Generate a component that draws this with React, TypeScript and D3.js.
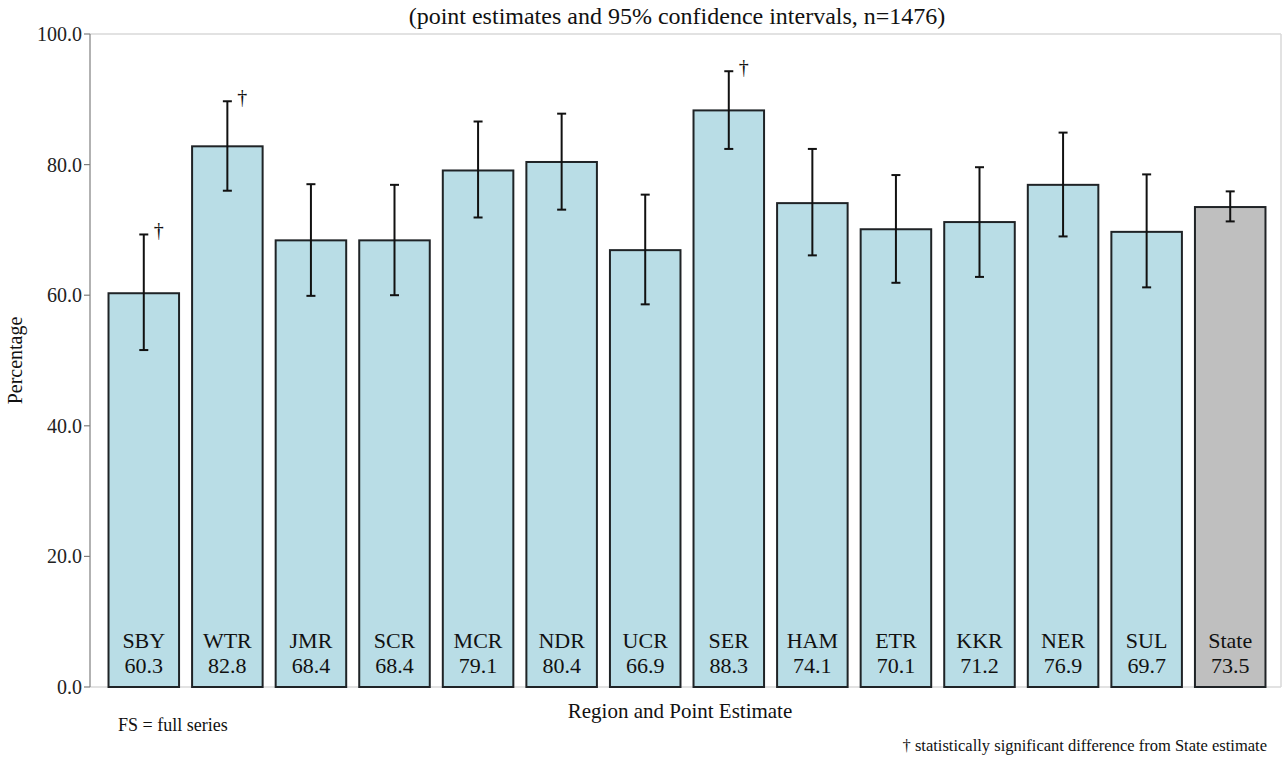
import React, { useEffect } from "react";
import * as d3 from "d3";

const categories = ["SBY", "WTR", "JMR", "SCR", "MCR", "NDR", "UCR", "SER", "HAM", "ETR", "KKR", "NER", "SUL", "State"];
const values = [60.3, 82.8, 68.4, 68.4, 79.1, 80.4, 66.9, 88.3, 74.1, 70.1, 71.2, 76.9, 69.7, 73.5];
const lowerCI = [51.6, 76.0, 59.9, 60.0, 71.9, 73.1, 58.6, 82.4, 66.1, 61.9, 62.8, 69.0, 61.2, 71.3];
const upperCI = [69.3, 89.7, 77.0, 76.9, 86.6, 87.8, 75.4, 94.3, 82.4, 78.4, 79.6, 84.9, 78.5, 75.9];
const significant = ["SBY", "WTR", "SER"];
const yTicks = [0, 20, 40, 60, 80, 100];

const W = 1286;
const H = 759;
const FONT = "Liberation Serif, DejaVu Serif, serif";

const T = (props: any) => <text {...props} style={{ fontFamily: FONT }} />;

export default function App() {
  useEffect(() => {
    document.body.style.margin = "0";
  }, []);

  const plotLeft = 90;
  const plotRight = 1281;
  const plotTop = 34;
  const plotBottom = 687;

  const y = d3.scaleLinear().domain([0, 100]).range([plotBottom, plotTop]);
  const x = d3
    .scaleBand<string>()
    .domain(categories)
    .range([102, 1272])
    .paddingInner(0.156)
    .paddingOuter(0.078);
  const bw = x.bandwidth();

  return (
    <svg width={W} height={H} style={{ display: "block", background: "#fff", fontFamily: FONT }}>
      {/* subtitle */}
      <T x={677} y={24} textAnchor="middle" fontSize={24} fill="#111">
        (point estimates and 95% confidence intervals, n=1476)
      </T>

      {/* plot frame */}
      <line x1={plotLeft} x2={plotRight} y1={plotTop} y2={plotTop} stroke="#d9d9d9" strokeWidth={1.5} />
      <line x1={plotRight} x2={plotRight} y1={plotTop} y2={plotBottom} stroke="#d9d9d9" strokeWidth={1.5} />
      <line x1={plotLeft} x2={plotRight} y1={plotBottom} y2={plotBottom} stroke="#d9d9d9" strokeWidth={1.5} />

      {/* y axis */}
      <line x1={plotLeft} x2={plotLeft} y1={plotTop} y2={plotBottom} stroke="#7f7f7f" strokeWidth={1.2} />
      {yTicks.map((t) => (
        <g key={t}>
          <line x1={plotLeft - 6} x2={plotLeft} y1={y(t)} y2={y(t)} stroke="#7f7f7f" strokeWidth={1.2} />
          <T x={plotLeft - 8} y={y(t)} dy="0.35em" textAnchor="end" fontSize={20} fill="#222">
            {t.toFixed(1)}
          </T>
        </g>
      ))}
      <T
        transform={`translate(22, ${(plotTop + plotBottom) / 2}) rotate(-90)`}
        textAnchor="middle"
        fontSize={20}
        fill="#111"
      >
        Percentage
      </T>

      {/* bars */}
      {categories.map((c, i) => {
        const x0 = x(c)!;
        const cx = x0 + bw / 2;
        const isState = c === "State";
        return (
          <g key={c}>
            <rect
              x={x0}
              y={y(values[i])}
              width={bw}
              height={y(0) - y(values[i])}
              fill={isState ? "#bfbfbf" : "#b9dde6"}
              stroke="#1f2326"
              strokeWidth={2}
            />
            <line x1={cx} x2={cx} y1={y(upperCI[i])} y2={y(lowerCI[i])} stroke="#111" strokeWidth={2} />
            <line x1={cx - 4.5} x2={cx + 4.5} y1={y(upperCI[i])} y2={y(upperCI[i])} stroke="#111" strokeWidth={2} />
            <line x1={cx - 4.5} x2={cx + 4.5} y1={y(lowerCI[i])} y2={y(lowerCI[i])} stroke="#111" strokeWidth={2} />
            {significant.includes(c) && (
              <T x={cx + 15} y={y(upperCI[i]) + 3} textAnchor="middle" fontSize={20} fill="#111">
                {"\u2020"}
              </T>
            )}
            <T x={cx} y={y(0) - 39} textAnchor="middle" fontSize={22} fill="#111">
              {c}
            </T>
            <T x={cx} y={y(0) - 14} textAnchor="middle" fontSize={22} fill="#111">
              {values[i].toFixed(1)}
            </T>
          </g>
        );
      })}

      {/* x axis title */}
      <T x={680} y={718} textAnchor="middle" fontSize={21} fill="#111">
        Region and Point Estimate
      </T>

      {/* footnotes */}
      <T x={118} y={731} fontSize={18} fill="#111">
        FS = full series
      </T>
      <T x={1267} y={751} textAnchor="end" fontSize={16.5} fill="#111">
        {"\u2020 statistically significant difference from State estimate"}
      </T>
    </svg>
  );
}
